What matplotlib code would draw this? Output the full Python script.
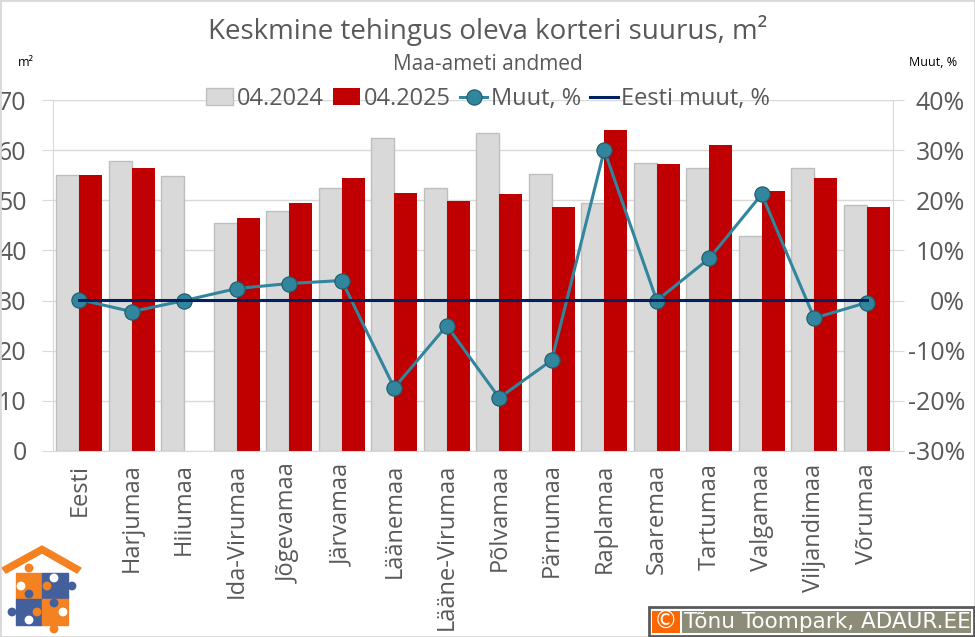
import matplotlib
matplotlib.use('Agg')
import matplotlib.pyplot as plt
from matplotlib.patches import Polygon, Rectangle, Circle
from matplotlib.ticker import FuncFormatter
import numpy as np

# Keskmine tehingus oleva korteri suurus, maakonnad

regions = ['Eesti', 'Harjumaa', 'Hiiumaa', 'Ida-Virumaa', 'Jõgevamaa', 'Järvamaa',
           'Läänemaa', 'Lääne-Virumaa', 'Põlvamaa', 'Pärnumaa', 'Raplamaa', 'Saaremaa',
           'Tartumaa', 'Valgamaa', 'Viljandimaa', 'Võrumaa']
size_2024 = [55.0, 57.8, 54.8, 45.4, 47.8, 52.4, 62.4, 52.4, 63.4, 55.2, 49.4, 57.4, 56.4, 42.8, 56.4, 49.0]
size_2025 = [55.0, 56.5, np.nan, 46.4, 49.4, 54.4, 51.4, 49.8, 51.2, 48.6, 64.0, 57.2, 61.0, 51.8, 54.4, 48.6]
change = [0.2, -2.2, 0.0, 2.4, 3.4, 4.0, -17.4, -5.0, -19.4, -11.9, 30.0, 0.0, 8.4, 21.2, -3.5, -0.4]
estonia_change = [0.2] * 16

W, H = 975, 637
GREY = '#595959'
GRID = '#d9d9d9'
plt.rcParams['font.family'] = 'Open Sans'

fig = plt.figure(figsize=(W / 100, H / 100), dpi=100)
# chart border
fig.add_artist(Rectangle((0, 0), 1, 1, transform=fig.transFigure, fill=False, ec=GRID, lw=2))

ax = fig.add_axes([53 / W, 1 - 451 / H, 840 / W, 351 / H])
x = np.arange(len(regions))
w = 0.44
ax.bar(x - w / 2, size_2024, w, color='#d9d9d9', edgecolor='#bfbfbf', lw=1, label='04.2024', zorder=2)
ax.bar(x + w / 2, size_2025, w, color='#c00000', label='04.2025', zorder=2)
ax.set_xlim(-0.5, 15.5)
ax.set_ylim(0, 70)
ax.set_yticks(range(0, 71, 10))
ax.set_xticks(x)
ax.set_xticklabels(regions, rotation=90, fontsize=17, color=GREY)
ax.tick_params(axis='x', length=0, pad=9)
ax.tick_params(axis='y', length=8, color=GRID, labelsize=18, labelcolor=GREY, pad=11)
ax.grid(axis='y', color=GRID, lw=1, zorder=0)
ax.set_axisbelow(True)
ax.spines['top'].set_visible(False)
for s in ['left', 'right', 'bottom']:
    ax.spines[s].set_color(GRID)

ax2 = ax.twinx()
ax2.plot(x, change, color='#31859c', lw=2.2, marker='o', ms=11, mfc='#31859c', mec='#215968', mew=0.8,
         label='Muut, %', zorder=4)
ax2.plot(x, estonia_change, color='#002060', lw=2.2, label='Eesti muut, %', zorder=5)
ax2.set_ylim(-30, 40)
ax2.set_yticks(range(-30, 41, 10))
ax2.yaxis.set_major_formatter(FuncFormatter(lambda v, pos: f'{v:.0f}%'))
ax2.tick_params(axis='y', length=8, color=GRID, labelsize=18, labelcolor=GREY, pad=44)
for lab in ax2.get_yticklabels():
    lab.set_ha('right')
for s in ax2.spines.values():
    s.set_visible(False)

fig.text(488 / W, 1 - 30 / H, 'Keskmine tehingus oleva korteri suurus, m²', ha='center', va='center',
         fontsize=20, color=GREY)
fig.text(488 / W, 1 - 64 / H, 'Maa-ameti andmed', ha='center', va='center', fontsize=15, color=GREY)
fig.text(26 / W, 1 - 63 / H, 'm²', ha='center', va='center', fontsize=9, color='black')
fig.text(933 / W, 1 - 63 / H, 'Muut, %', ha='center', va='center', fontsize=9, color='black')

h1, l1 = ax.get_legend_handles_labels()
h2, l2 = ax2.get_legend_handles_labels()
fig.legend(h1 + h2, l1 + l2, ncol=4, loc='center', bbox_to_anchor=(488 / W, 1 - 99 / H), frameon=False,
           fontsize=17, labelcolor=GREY, columnspacing=0.4, handletextpad=0.15, handlelength=1.15,
           borderpad=0, borderaxespad=0)

# logo: house with puzzle pieces
logo = fig.add_axes([0, 0, 85 / W, 93 / H])
logo.set_xlim(0, 85)
logo.set_ylim(93, 0)
logo.axis('off')
ORANGE = '#f58220'
BLUE = '#44609c'
logo.add_patch(Polygon([(2, 24), (42, 2), (81, 24), (77, 29), (42, 9), (6, 29)], color=ORANGE))
logo.add_patch(Rectangle((16, 29), 26, 26, color=ORANGE))
logo.add_patch(Rectangle((42, 29), 26, 26, color=BLUE))
logo.add_patch(Rectangle((16, 55), 26, 26, color=BLUE))
logo.add_patch(Rectangle((42, 55), 26, 26, color=ORANGE))
for cx, cy, c in [(29, 24, ORANGE), (47, 42, ORANGE), (21, 42, 'white'), (54, 34, 'white'),
                  (72, 42, BLUE), (29, 50, BLUE), (54, 59, BLUE), (12, 68, BLUE), (37, 68, ORANGE),
                  (63, 68, 'white'), (29, 76, 'white'), (54, 85, ORANGE)]:
    logo.add_patch(Circle((cx, cy), 3.7, color=c, clip_on=False))

# copyright box
fig.add_artist(Rectangle((649 / W, 1 - 636 / H), 325 / W, 29 / H, transform=fig.transFigure,
                         fc='white', ec='#595959', lw=2))
fig.add_artist(Rectangle((652 / W, 1 - 633 / H), 28 / W, 22 / H, transform=fig.transFigure,
                         fc='#ff6600', ec='none'))
fig.add_artist(Rectangle((682 / W, 1 - 633 / H), 289 / W, 22 / H, transform=fig.transFigure,
                         fc='#8c8c78', ec='none'))
fig.text(666 / W, 1 - 622 / H, '©', ha='center', va='center', fontsize=17, color='white', family='DejaVu Sans')
fig.text(684 / W, 1 - 622 / H, 'Tõnu Toompark, ADAUR.EE', ha='left', va='center', fontsize=15.5,
         color='white', family='DejaVu Sans')

fig.savefig('out.png', dpi=100)
